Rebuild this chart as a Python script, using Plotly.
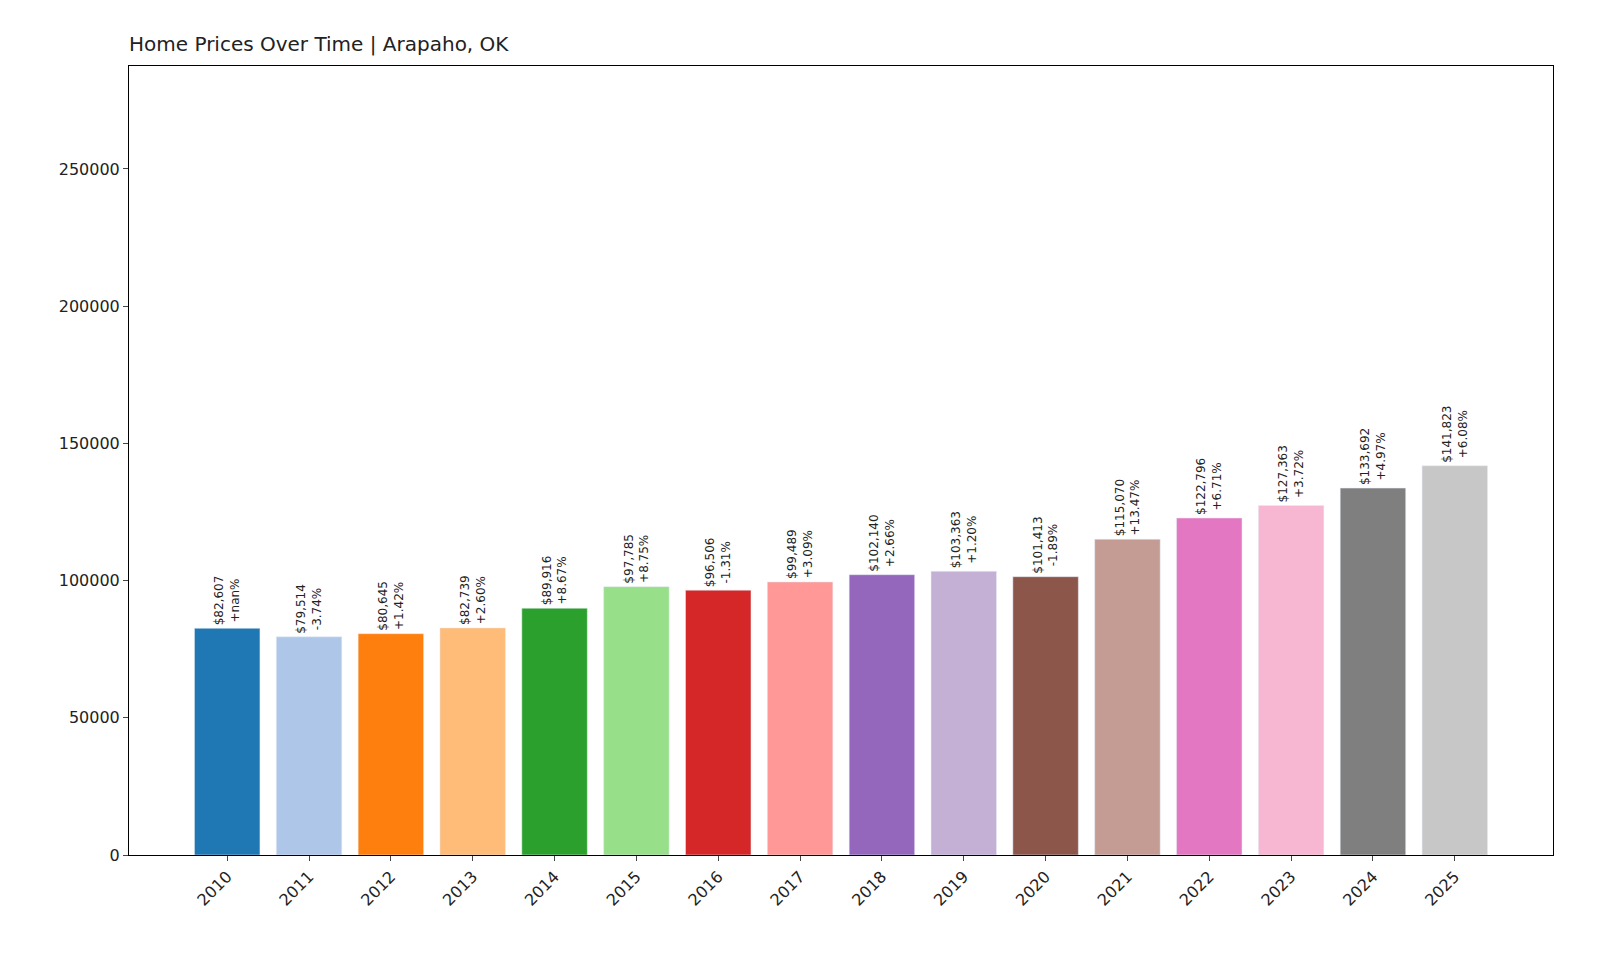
import plotly.graph_objects as go

years = list(range(2010, 2026))
prices = [82607, 79514, 80645, 82739, 89916, 97785, 96506, 99489,
          102140, 103363, 101413, 115070, 122796, 127363, 133692, 141823]
changes = ["+nan%", "-3.74%", "+1.42%", "+2.60%", "+8.67%", "+8.75%", "-1.31%", "+3.09%",
           "+2.66%", "+1.20%", "-1.89%", "+13.47%", "+6.71%", "+3.72%", "+4.97%", "+6.08%"]
colors = ["#1f77b4", "#aec7e8", "#ff7f0e", "#ffbb78", "#2ca02c", "#98df8a", "#d62728", "#ff9896",
          "#9467bd", "#c5b0d5", "#8c564b", "#c49c94", "#e377c2", "#f7b6d2", "#7f7f7f", "#c7c7c7"]

labels = [f"${p:,}<br>{c}" for p, c in zip(prices, changes)]

fig = go.Figure(go.Bar(
    x=years, y=prices, width=0.8, marker_color=colors,
    text=labels, textposition="outside", textangle=-90,
    textfont=dict(size=12, color="#222"), cliponaxis=False,
))

fig.update_layout(
    width=1600, height=960,
    margin=dict(l=121, r=55, t=58, b=113),
    plot_bgcolor="white", paper_bgcolor="white",
    font=dict(family="DejaVu Sans", size=16, color="#222"),
    title=dict(text="Home Prices Over Time | Arapaho, OK", x=121/1600, xanchor="left",
               y=1 - 36/960, yanchor="middle", font=dict(size=20)),
    showlegend=False,
)
fig.update_xaxes(range=[2008.8, 2026.2], tickmode="array", tickvals=years, tickangle=-45,
                 showline=True, linecolor="black", mirror=True, ticks="outside",
                 showgrid=False, zeroline=False)
fig.update_yaxes(range=[0, 287500], tickvals=[0, 50000, 100000, 150000, 200000, 250000],
                 tickformat="d", showline=True, linecolor="black", mirror=True,
                 ticks="outside", showgrid=False, zeroline=False)

fig.write_html("out.html")
